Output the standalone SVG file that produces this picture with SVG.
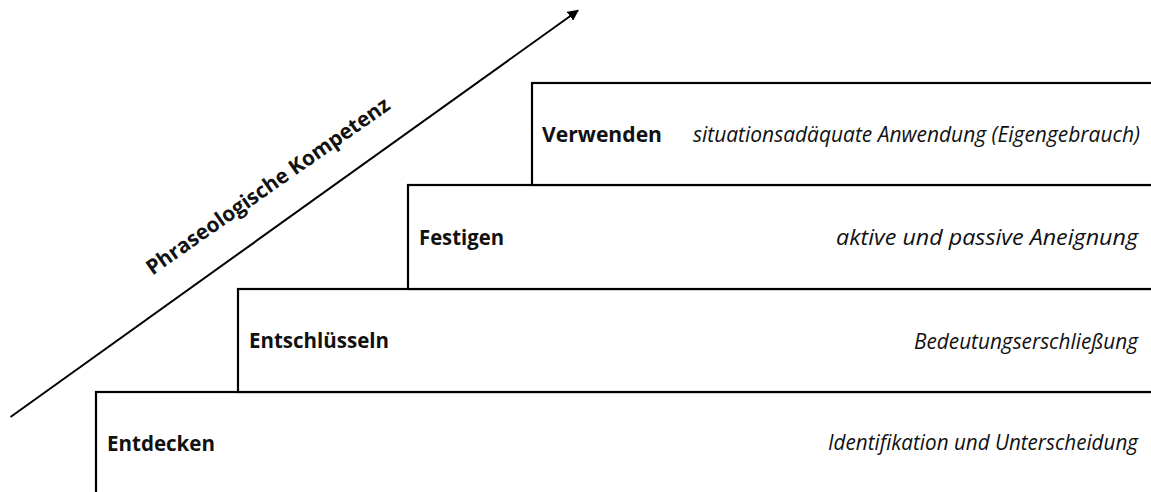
<svg xmlns="http://www.w3.org/2000/svg" width="1151" height="492" viewBox="0 0 1151 492">
<style>
.step{fill:#fff;stroke:#000;stroke-width:2.2}
.lbl{font-family:"Open Sans","Liberation Sans",sans-serif;font-weight:bold;font-size:21px;fill:#111}
.desc{font-family:"Open Sans","Liberation Sans",sans-serif;font-style:italic;font-size:21px;fill:#111;text-anchor:end}
.axis{font-family:"Open Sans","Liberation Sans",sans-serif;font-weight:bold;font-size:21px;fill:#111;text-anchor:middle}
</style>
<defs>
<marker id="ah" viewBox="0 0 10 10" refX="9" refY="5" markerWidth="5.5" markerHeight="5.5" orient="auto" markerUnits="strokeWidth">
<path d="M0,0 L10,5 L0,10 z" fill="#000"/>
</marker>
</defs>
<rect width="1151" height="492" fill="#fff"/>
<g id="entdecken">
<rect class="step" x="96" y="392" width="1070" height="120"/>
<text class="lbl" x="107" y="451" textLength="108" lengthAdjust="spacingAndGlyphs">Entdecken</text>
<text class="desc" x="1138" y="450" textLength="310" lengthAdjust="spacingAndGlyphs">Identifikation und Unterscheidung</text>
</g>
<g id="entschluesseln">
<rect class="step" x="238" y="289" width="930" height="103"/>
<text class="lbl" x="249" y="348" textLength="140" lengthAdjust="spacingAndGlyphs">Entschlüsseln</text>
<text class="desc" x="1138" y="349" textLength="224" lengthAdjust="spacingAndGlyphs">Bedeutungserschließung</text>
</g>
<g id="festigen">
<rect class="step" x="408" y="185" width="760" height="104"/>
<text class="lbl" x="419" y="245" textLength="85" lengthAdjust="spacingAndGlyphs">Festigen</text>
<text class="desc" x="1138" y="245" textLength="302" lengthAdjust="spacingAndGlyphs">aktive und passive Aneignung</text>
</g>
<g id="verwenden">
<rect class="step" x="532" y="83" width="630" height="102"/>
<text class="lbl" x="542" y="142" textLength="120" lengthAdjust="spacingAndGlyphs">Verwenden</text>
<text class="desc" x="1140" y="142" textLength="447" lengthAdjust="spacingAndGlyphs">situationsadäquate Anwendung (Eigengebrauch)</text>
</g>
<g id="connectors">
<line x1="10.5" y1="417" x2="578" y2="10.5" stroke="#000" stroke-width="2" marker-end="url(#ah)"/>
</g>
<g id="axis-label">
<text class="axis" x="0" y="0" transform="translate(272,192) rotate(-35)" textLength="292" lengthAdjust="spacingAndGlyphs">Phraseologische Kompetenz</text>
</g>
</svg>
